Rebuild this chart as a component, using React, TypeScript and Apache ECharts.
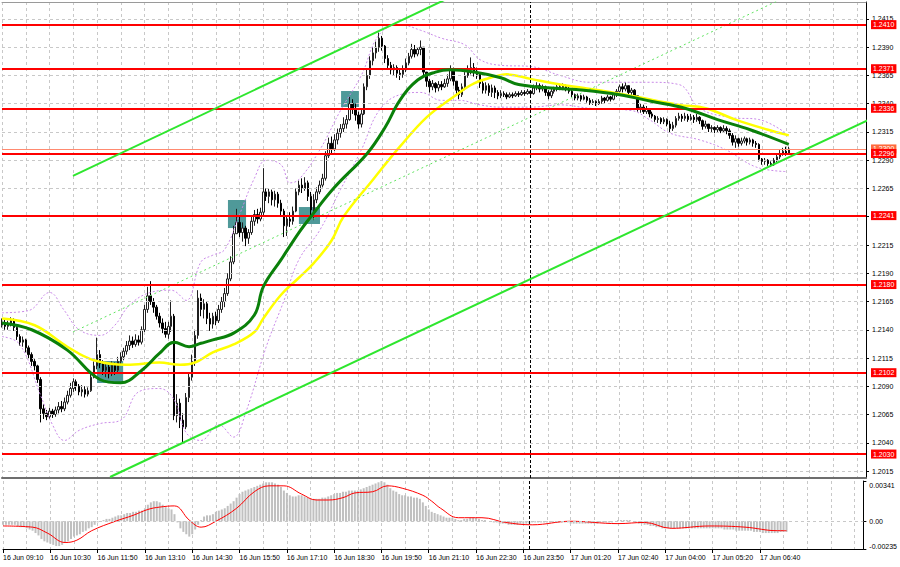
import React, { useEffect, useRef } from "react";
import * as echarts from "echarts";

// ---------- axis ticks ----------
const tickLabels = [
  "16 Jun 09:10", "16 Jun 10:30", "16 Jun 11:50", "16 Jun 13:10", "16 Jun 14:30",
  "16 Jun 15:50", "16 Jun 17:10", "16 Jun 18:30", "16 Jun 19:50", "16 Jun 21:10",
  "16 Jun 22:30", "16 Jun 23:50", "17 Jun 01:20", "17 Jun 02:40", "17 Jun 04:00",
  "17 Jun 05:20", "17 Jun 06:40",
];
const priceTicks = [
  1.2415, 1.239, 1.2365, 1.234, 1.2315, 1.229, 1.2265, 1.224, 1.2215,
  1.219, 1.2165, 1.214, 1.2115, 1.209, 1.2065, 1.204, 1.2015,
];
const macdTicks = [0.00341, 0, -0.00235];

// ---------- levels ----------
const levelLines = [1.241, 1.2371, 1.2336, 1.2296, 1.2241, 1.218, 1.2102, 1.203];
const bidPrice = 1.23;
const separatorIndex = 178;
const TOTAL_SLOTS = 292;

// ---------- candles (5 min) ----------
const firstOpen = 1.2144;
const closes = [
  1.2146, 1.2143, 1.2145, 1.2148, 1.2142, 1.2134, 1.2129, 1.2131, 1.2124, 1.2118,
  1.2112, 1.2108, 1.2096, 1.207, 1.2066, 1.2063, 1.2068, 1.2065, 1.2069, 1.2072,
  1.207, 1.2076, 1.2082, 1.2088, 1.2094, 1.209, 1.2085, 1.2087, 1.2083, 1.2086,
  1.2098, 1.2108, 1.2118, 1.211, 1.2104, 1.2107, 1.2101, 1.2109, 1.2104, 1.2112,
  1.2116, 1.2121, 1.2126, 1.213, 1.2127, 1.2131, 1.2129, 1.214, 1.2158, 1.217,
  1.2165, 1.216, 1.2152, 1.2146, 1.2141, 1.2136, 1.2143, 1.2152, 1.2064, 1.2075,
  1.206, 1.2054, 1.208, 1.2098, 1.2112, 1.2135, 1.2168, 1.2158, 1.2163, 1.215,
  1.2145, 1.2152, 1.2148, 1.2158, 1.2165, 1.2172, 1.2185, 1.22, 1.2225, 1.2235,
  1.2226, 1.223, 1.2221, 1.2226, 1.2236, 1.2242, 1.2238, 1.2244, 1.2262, 1.2258,
  1.2262, 1.2255, 1.226, 1.2252, 1.2245, 1.2232, 1.2238, 1.2236, 1.2245, 1.2262,
  1.2268, 1.2265, 1.227, 1.2258, 1.2246, 1.2255, 1.2262, 1.2268, 1.2274, 1.2294,
  1.2305, 1.23, 1.2308, 1.2314, 1.2318, 1.2322, 1.2326, 1.234, 1.2336, 1.233,
  1.2322, 1.2331, 1.2355, 1.2365, 1.2378, 1.2385, 1.239, 1.2398, 1.2391, 1.238,
  1.2374, 1.237, 1.2372, 1.2367, 1.2366, 1.2371, 1.2376, 1.2382, 1.2388, 1.2384,
  1.2388, 1.239, 1.2368, 1.236, 1.2355, 1.2358, 1.2354, 1.2357, 1.2355, 1.2358,
  1.2362, 1.2371, 1.236, 1.2352, 1.2348, 1.2355, 1.2365, 1.237, 1.2372, 1.2368,
  1.2366, 1.2358, 1.2352, 1.2356, 1.235, 1.2354, 1.235, 1.2347, 1.2349, 1.2348,
  1.2346, 1.2348, 1.2347, 1.2349, 1.2348, 1.235, 1.2349, 1.2351, 1.2349, 1.2354,
  1.2356, 1.2353, 1.2355, 1.235, 1.2347, 1.2351, 1.2353, 1.2355, 1.2354, 1.2356,
  1.2353, 1.2351, 1.2348, 1.2345, 1.2347, 1.2344, 1.2346, 1.2343, 1.2341, 1.2342,
  1.234, 1.2342, 1.2345, 1.2343, 1.2346, 1.2344, 1.2348, 1.2351, 1.2355, 1.2353,
  1.2356, 1.235, 1.2352, 1.2347, 1.2336, 1.2337, 1.2333, 1.2335, 1.2331, 1.2329,
  1.2326, 1.2327, 1.2324, 1.2326, 1.2322, 1.2318, 1.2321, 1.2327, 1.2329, 1.2327,
  1.2329, 1.2326, 1.2328, 1.2326, 1.2328, 1.2325, 1.232, 1.2322, 1.2318, 1.2319,
  1.2317, 1.2319, 1.2316, 1.2318, 1.2316, 1.2312, 1.2306, 1.2309, 1.2305, 1.2307,
  1.2309, 1.2306, 1.2308, 1.2305, 1.2304, 1.2291, 1.2289, 1.229, 1.2287, 1.2286,
  1.229, 1.2293, 1.2296, 1.2298, 1.2296, 1.23,
];
const highs = [
  1.215, 1.2149, 1.2148, 1.2151, 1.215, 1.2143, 1.2136, 1.2134, 1.2132, 1.2126,
  1.212, 1.2114, 1.2109, 1.2098, 1.2074, 1.2069, 1.2071, 1.207, 1.2072, 1.2076,
  1.2077, 1.208, 1.2086, 1.2093, 1.2097, 1.2096, 1.2092, 1.2091, 1.209, 1.2089,
  1.2101, 1.2112, 1.2133, 1.2122, 1.2113, 1.211, 1.2109, 1.2112, 1.2111, 1.2116,
  1.212, 1.2124, 1.213, 1.2135, 1.2134, 1.2136, 1.2135, 1.2143, 1.2162, 1.2178,
  1.2183, 1.2168, 1.2162, 1.2155, 1.215, 1.2147, 1.2147, 1.2166, 1.2154, 1.2083,
  1.2079, 1.2066, 1.2084, 1.2102, 1.2118, 1.214, 1.2175, 1.2172, 1.2167, 1.2165,
  1.2155, 1.2155, 1.2156, 1.2162, 1.2169, 1.2177, 1.219, 1.2205, 1.2232, 1.2247,
  1.224, 1.2235, 1.2232, 1.2229, 1.224, 1.2246, 1.2247, 1.2248, 1.2283, 1.2265,
  1.2265, 1.2264, 1.2263, 1.2262, 1.2255, 1.2247, 1.2241, 1.2244, 1.2249, 1.2265,
  1.2272, 1.2274, 1.2275, 1.2272, 1.2262, 1.226, 1.2266, 1.2272, 1.2278, 1.2298,
  1.231, 1.2311, 1.2313, 1.2318, 1.2322, 1.2328, 1.233, 1.2346, 1.2344, 1.234,
  1.2333, 1.2335, 1.2358, 1.237, 1.2382, 1.239, 1.2395, 1.2403, 1.24, 1.2392,
  1.2383, 1.2377, 1.2375, 1.2374, 1.237, 1.2374, 1.238, 1.2385, 1.2393, 1.2392,
  1.239, 1.2396, 1.239, 1.2368, 1.2362, 1.2361, 1.2359, 1.236, 1.236, 1.2362,
  1.2366, 1.2374, 1.2372, 1.236, 1.2355, 1.2358, 1.2368, 1.2374, 1.2381, 1.2376,
  1.2372, 1.2367, 1.236, 1.2359, 1.2358, 1.2357, 1.2356, 1.2352, 1.2352, 1.2351,
  1.235, 1.235, 1.235, 1.2351, 1.2351, 1.2352, 1.2352, 1.2353, 1.2352, 1.2357,
  1.2359, 1.2358, 1.2357, 1.2356, 1.2352, 1.2353, 1.2355, 1.2358, 1.2357, 1.2358,
  1.2357, 1.2355, 1.2353, 1.2349, 1.2349, 1.2348, 1.2348, 1.2347, 1.2345, 1.2344,
  1.2343, 1.2344, 1.2347, 1.2346, 1.2348, 1.2347, 1.235, 1.2353, 1.2357, 1.2358,
  1.2359, 1.2356, 1.2354, 1.2353, 1.2347, 1.234, 1.2339, 1.2338, 1.2336, 1.2333,
  1.233, 1.2329, 1.2328, 1.2328, 1.2327, 1.2325, 1.2324, 1.2329, 1.2332, 1.2331,
  1.2332, 1.2331, 1.2331, 1.233, 1.2331, 1.2329, 1.2326, 1.2325, 1.2322, 1.2321,
  1.232, 1.2321, 1.232, 1.2321, 1.232, 1.2318, 1.2314, 1.2312, 1.231, 1.231,
  1.2311, 1.231, 1.231, 1.2309, 1.2307, 1.2305, 1.2292, 1.2292, 1.2291, 1.2289,
  1.2292, 1.2295, 1.2299, 1.2301, 1.2302, 1.2302,
];
const lows = [
  1.2142, 1.214, 1.214, 1.2143, 1.2139, 1.2131, 1.2126, 1.2125, 1.212, 1.2115,
  1.2108, 1.2104, 1.2093, 1.2058, 1.2061, 1.206, 1.2061, 1.2062, 1.2063, 1.2066,
  1.2067, 1.2068, 1.2074, 1.208, 1.2085, 1.2086, 1.2082, 1.2081, 1.208, 1.2081,
  1.2085, 1.2097, 1.2105, 1.2106, 1.21, 1.2098, 1.2097, 1.2099, 1.21, 1.2102,
  1.2109, 1.2113, 1.2118, 1.2122, 1.2124, 1.2125, 1.2126, 1.2127, 1.2138, 1.2155,
  1.2162, 1.2155, 1.2149, 1.2142, 1.2137, 1.2133, 1.2132, 1.2138, 1.206, 1.2058,
  1.2053, 1.204, 1.2052, 1.2076, 1.2095, 1.2108, 1.2132, 1.2152, 1.215, 1.2145,
  1.2139, 1.2141, 1.2144, 1.2146, 1.2155, 1.216, 1.217, 1.2183, 1.2198, 1.2228,
  1.2222, 1.2218, 1.2214, 1.2216, 1.2224, 1.2232, 1.2234, 1.2236, 1.224, 1.2254,
  1.2252, 1.225, 1.2249, 1.2248, 1.224, 1.2222, 1.2223, 1.2231, 1.2233, 1.2244,
  1.2259, 1.2261, 1.2263, 1.2254, 1.224, 1.2237, 1.2252, 1.226, 1.2266, 1.2272,
  1.2292, 1.2296, 1.2298, 1.2304, 1.231, 1.2315, 1.2318, 1.2325, 1.2331, 1.2325,
  1.2318, 1.2319, 1.233, 1.2352, 1.2362, 1.2374, 1.238, 1.2386, 1.2387, 1.2376,
  1.237, 1.2366, 1.2365, 1.2363, 1.2361, 1.2363, 1.2368, 1.2374, 1.238, 1.2381,
  1.2382, 1.2383, 1.2364, 1.2355, 1.235, 1.2352, 1.235, 1.2351, 1.2352, 1.2354,
  1.2355, 1.236, 1.2356, 1.2347, 1.2344, 1.2346, 1.2352, 1.2363, 1.2366, 1.2364,
  1.2362, 1.2354, 1.2349, 1.2349, 1.2347, 1.2346, 1.2345, 1.2344, 1.2345, 1.2346,
  1.2344, 1.2345, 1.2345, 1.2346, 1.2346, 1.2347, 1.2347, 1.2348, 1.2347, 1.2348,
  1.2352, 1.235, 1.2351, 1.2347, 1.2344, 1.2345, 1.2349, 1.2351, 1.2352, 1.2352,
  1.2351, 1.2349, 1.2346, 1.2343, 1.2343, 1.2342, 1.2343, 1.2341, 1.2339, 1.2339,
  1.2338, 1.2339, 1.234, 1.234, 1.2342, 1.2342, 1.2343, 1.2346, 1.235, 1.235,
  1.2351, 1.2348, 1.2347, 1.2345, 1.2333, 1.2332, 1.2331, 1.2331, 1.2328, 1.2327,
  1.2324, 1.2323, 1.2322, 1.2322, 1.232, 1.2315, 1.2316, 1.2319, 1.2325, 1.2324,
  1.2325, 1.2324, 1.2325, 1.2323, 1.2324, 1.2322, 1.2317, 1.2318, 1.2315, 1.2315,
  1.2314, 1.2315, 1.2314, 1.2315, 1.2313, 1.2309, 1.2303, 1.2301, 1.2302, 1.2303,
  1.2305, 1.2303, 1.2304, 1.2302, 1.2301, 1.2289, 1.2286, 1.2286, 1.2285, 1.2284,
  1.2285, 1.2288, 1.2291, 1.2294, 1.2294, 1.2295,
];

// ---------- indicators: [bar index, value] ----------
const maSlow = [
  [0, 1.215], [11, 1.2144], [22, 1.2125], [31, 1.2113], [42, 1.2109], [53, 1.2111],
  [60, 1.2109], [65, 1.2111], [71, 1.212], [78, 1.2127], [85, 1.2138], [88, 1.215],
  [94, 1.2171], [100, 1.2186], [105, 1.2199], [111, 1.2219], [115, 1.224], [125, 1.2273],
  [134, 1.2302], [143, 1.2328], [152, 1.2346], [159, 1.2358], [166, 1.2364], [170, 1.2366],
  [178, 1.2362], [188, 1.2357], [196, 1.2354], [210, 1.2348], [228, 1.2339], [237, 1.2336],
  [247, 1.2326], [258, 1.2317], [265, 1.2312],
];
const maFast = [
  [0, 1.2146], [10, 1.214], [22, 1.2122], [33, 1.2096], [40, 1.2093], [47, 1.2104],
  [53, 1.2119], [58, 1.2129], [63, 1.2125], [67, 1.2128], [71, 1.2131], [78, 1.2137],
  [85, 1.2153], [88, 1.2178], [94, 1.2202], [100, 1.2226], [104, 1.224], [112, 1.2266],
  [123, 1.2296], [129, 1.2319], [134, 1.2343], [140, 1.2361], [146, 1.2368], [151, 1.237],
  [159, 1.2368], [168, 1.2363], [174, 1.2357], [185, 1.2354], [196, 1.2352], [208, 1.2348],
  [219, 1.2342], [230, 1.2336], [241, 1.2326], [252, 1.2317], [265, 1.2304],
];
const bandUpper = [
  [0, 1.2155], [9, 1.2157], [16, 1.2173], [21, 1.2157], [26, 1.214], [33, 1.2135],
  [38, 1.2144], [43, 1.2162], [50, 1.2173], [57, 1.2175], [62, 1.2166], [67, 1.22],
  [71, 1.2206], [75, 1.2211], [80, 1.2242], [85, 1.2274], [89, 1.229], [94, 1.2286],
  [97, 1.227], [100, 1.2273], [107, 1.2299], [114, 1.2334], [121, 1.2365], [127, 1.2401],
  [134, 1.241], [141, 1.2405], [148, 1.2398], [156, 1.2392], [161, 1.2379], [168, 1.2374],
  [178, 1.2373], [188, 1.2365], [198, 1.2359], [208, 1.2359], [218, 1.2359], [228, 1.2357],
  [235, 1.2336], [245, 1.2328], [255, 1.2326], [264, 1.2314],
];
const bandLower = [
  [0, 1.2134], [6, 1.2127], [13, 1.2082], [17, 1.2056], [21, 1.2042], [26, 1.2051],
  [33, 1.2057], [40, 1.206], [46, 1.2085], [53, 1.2088], [58, 1.2078], [62, 1.2049],
  [67, 1.2042], [73, 1.2056], [78, 1.2045], [82, 1.2066], [89, 1.2125], [95, 1.2166],
  [100, 1.2202], [107, 1.2228], [114, 1.2264], [121, 1.2299], [127, 1.2334], [134, 1.2348],
  [141, 1.235], [148, 1.2343], [154, 1.2343], [161, 1.2339], [168, 1.2337], [178, 1.2337],
  [188, 1.2339], [198, 1.2336], [212, 1.2334], [218, 1.2326], [225, 1.2314], [235, 1.2308],
  [244, 1.2299], [254, 1.2284], [264, 1.228],
];
const channelUpper = [[23.9, 1.22761], [154.3, 1.24384]];
const channelLower = [[36.4, 1.20097], [291.7, 1.23256]];
const channelMid = [[23.9, 1.2138], [265.4, 1.24362]];
const signalBoxes = [
  [[32.0, 1.21123], [40.8, 1.20929]],
  [[76.1, 1.22548], [82.2, 1.223]],
  [[100.0, 1.22486], [107.1, 1.22336]],
  [[114.2, 1.23513], [120.2, 1.23371]],
];

const macdHist = [
  -0.0003, -0.0003, -0.0003, -0.0003, -0.0003, -0.0004, -0.0005, -0.0005, -0.0006, -0.0007,
  -0.0008, -0.001, -0.0012, -0.0015, -0.0017, -0.0018, -0.0019, -0.002, -0.0021, -0.0021,
  -0.002, -0.0018, -0.0017, -0.0015, -0.0013, -0.0012, -0.0011, -0.0009, -0.0008, -0.0006,
  -0.0005, -0.0003, -0.0001, 0.0, 0.0001, 0.0002, 0.0002, 0.0003, 0.0004, 0.0005,
  0.0005, 0.0006, 0.0007, 0.0007, 0.0008, 0.0008, 0.0009, 0.0009, 0.0011, 0.0014,
  0.0016, 0.0017, 0.0017, 0.0016, 0.0014, 0.0012, 0.0011, 0.001, 0.0006, -0.0001,
  -0.0006, -0.0009, -0.0011, -0.0013, -0.0011, -0.0007, -0.0003, 0.0001, 0.0004, 0.0005,
  0.0005, 0.0006, 0.0008, 0.0009, 0.001, 0.0011, 0.0013, 0.0015, 0.0017, 0.002,
  0.0023, 0.0025, 0.0026, 0.0027, 0.0028, 0.0029, 0.003, 0.0031, 0.0032, 0.0033,
  0.0033, 0.0033, 0.0032, 0.0031, 0.0029, 0.0026, 0.0024, 0.0022, 0.0021, 0.0021,
  0.0022, 0.0022, 0.0021, 0.002, 0.0019, 0.0019, 0.0019, 0.0019, 0.002, 0.002,
  0.0021, 0.0022, 0.0023, 0.0024, 0.0024, 0.0025, 0.0025, 0.0026, 0.0026, 0.0026,
  0.0026, 0.0027, 0.0028, 0.0029, 0.003, 0.0031, 0.0032, 0.0033, 0.0034, 0.0033,
  0.0031, 0.0028, 0.0026, 0.0025, 0.0023, 0.0022, 0.0022, 0.0021, 0.0021, 0.002,
  0.002, 0.0019, 0.0016, 0.0013, 0.001, 0.0008, 0.0007, 0.0006, 0.0005, 0.0004,
  0.0003, 0.0003, 0.0003, 0.0002, 0.0001, 0.0001, 0.0002, 0.0002, 0.0003, 0.0003,
  0.0003, 0.0002, 0.0001, 0.0001, 0.0, 0.0, -0.0001, -0.0001, -0.0002, -0.0002,
  -0.0002, -0.0003, -0.0003, -0.0003, -0.0003, -0.0002, -0.0002, -0.0002, -0.0002, -0.0001,
  -0.0001, -0.0001, -0.0001, -0.0001, -0.0001, -0.0001, -0.0001, -0.0001, -0.0001, -0.0001,
  -0.0001, -0.0001, -0.0002, -0.0002, -0.0002, -0.0002, -0.0002, -0.0002, -0.0002, -0.0002,
  -0.0002, -0.0002, -0.0001, -0.0001, -0.0001, -0.0001, -0.0001, 0.0, 0.0001, 0.0001,
  0.0001, 0.0001, 0.0001, 0.0, -0.0001, -0.0002, -0.0002, -0.0003, -0.0003, -0.0004,
  -0.0004, -0.0005, -0.0005, -0.0006, -0.0006, -0.0006, -0.0006, -0.0006, -0.0006, -0.0006,
  -0.0006, -0.0006, -0.0006, -0.0006, -0.0006, -0.0006, -0.0006, -0.0006, -0.0006, -0.0006,
  -0.0006, -0.0006, -0.0006, -0.0006, -0.0007, -0.0007, -0.0007, -0.0007, -0.0008, -0.0008,
  -0.0008, -0.0008, -0.0008, -0.0008, -0.0009, -0.0009, -0.0009, -0.001, -0.001, -0.001,
  -0.001, -0.001, -0.001, -0.0009, -0.0009, -0.0009,
];
const macdSignal = [
  [0, -0.0004], [10, -0.0005], [15, -0.001], [21, -0.0018], [25, -0.0016], [30, -0.0008],
  [38, 0.0], [44, 0.0005], [49, 0.001], [53, 0.0012], [58, 0.0013], [63, 0.0001],
  [67, -0.0005], [72, 0.0], [79, 0.0011], [85, 0.0025], [90, 0.003], [95, 0.003],
  [101, 0.0023], [106, 0.0018], [110, 0.0018], [115, 0.002], [119, 0.0024], [125, 0.0025],
  [130, 0.003], [135, 0.0028], [142, 0.0022], [145, 0.0017], [148, 0.0011], [154, 0.0003],
  [162, 0.0003], [170, -0.0001], [179, -0.0003], [192, 0.0], [208, -0.0002], [217, -0.0001],
  [226, -0.0006], [239, -0.0004], [251, -0.0005], [262, -0.0008], [265, -0.0008],
];

const FONT = "Liberation Sans";

export default function App() {
  const ref = useRef<HTMLDivElement>(null);
  useEffect(() => {
    if (!ref.current) return;
    const chart = echarts.init(ref.current, null, { renderer: "svg" });
    const categories = Array.from({ length: TOTAL_SLOTS }, (_, i) => String(i));
    const candles = closes.map((c, i) => {
      const o = i === 0 ? firstOpen : closes[i - 1];
      return [o, c, Math.min(lows[i], o, c), Math.max(highs[i], o, c)];
    });
    const labelInterval = (i: number) => i % 16 === 0 && i / 16 < tickLabels.length;
    const gridInterval = (i: number) => i % 8 === 0;
    const gridLine = { color: "#c8c8c8", type: [3, 3], width: 1 };
    const sepLine = { color: "#000000", type: [3, 2], width: 1 };
    const priceLabel = (bg: string) => ({
      show: true, position: "end", distance: 5,
      formatter: (p: any) => Number(p.value).toFixed(4),
      backgroundColor: bg, color: "#ffffff", fontSize: 7, padding: [1, 2, 1, 2],
    });

    const option: any = {
      animation: false,
      backgroundColor: "#ffffff",
      textStyle: { fontFamily: FONT },
      grid: [
        { left: 2, right: 34, top: 2, height: 476 },
        { left: 2, right: 34, top: 481, height: 68 },
      ],
      xAxis: [
        {
          type: "category", gridIndex: 0, data: categories, boundaryGap: false,
          axisLine: { show: true, onZero: false, lineStyle: { color: "#6e6e6e", width: 2 } },
          axisTick: { show: false }, axisLabel: { show: false },
          splitLine: { show: true, interval: gridInterval, lineStyle: gridLine },
        },
        {
          type: "value", gridIndex: 0, min: 0, max: TOTAL_SLOTS - 1, position: "top",
          axisLine: { show: true, onZero: false, lineStyle: { color: "#9a9a9a", width: 1 } },
          axisTick: { show: false }, axisLabel: { show: false }, splitLine: { show: false },
        },
        {
          type: "category", gridIndex: 1, data: categories, boundaryGap: false,
          axisLine: { show: true, onZero: false, lineStyle: { color: "#000000", width: 1 } },
          axisTick: { show: true, interval: labelInterval, length: 4, lineStyle: { color: "#000000" } },
          axisLabel: {
            show: true, interval: labelInterval, align: "left", fontSize: 7, color: "#000000", margin: 5,
            formatter: (_v: string, i: number) => tickLabels[i / 16] ?? "",
          },
          splitLine: { show: true, interval: gridInterval, lineStyle: gridLine },
        },
        {
          type: "value", gridIndex: 1, min: 0, max: TOTAL_SLOTS - 1, show: false,
          axisLine: { onZero: false },
        },
      ],
      yAxis: [
        {
          type: "value", gridIndex: 0, position: "right", min: 1.200881, max: 1.243004,
          axisLine: { show: true, onZero: false, lineStyle: { color: "#000000", width: 1 } },
          axisTick: { show: true, customValues: priceTicks, length: 3, lineStyle: { color: "#000000" } },
          axisLabel: {
            customValues: priceTicks, fontSize: 7, color: "#000000", margin: 6,
            formatter: (v: number) => v.toFixed(4),
          },
          splitLine: { show: false },
        },
        {
          type: "value", gridIndex: 1, position: "right", min: -0.00235, max: 0.00341,
          axisLine: { show: true, onZero: false, lineStyle: { color: "#000000", width: 1 } },
          axisTick: { show: true, customValues: macdTicks, length: 3, lineStyle: { color: "#000000" } },
          axisLabel: {
            customValues: macdTicks, fontSize: 7, color: "#000000", margin: 6,
            formatter: (v: number) =>
              v > 0 ? "{t|" + v.toFixed(5) + "}" : v < 0 ? "{b|" + v.toFixed(5) + "}" : v.toFixed(2),
            rich: {
              t: { fontSize: 7, color: "#000000", padding: [8, 0, 0, 0] },
              b: { fontSize: 7, color: "#000000", padding: [0, 0, 6, 0] },
            },
          },
          splitLine: { show: false },
        },
      ],
      series: [
        {
          name: "frame",
          type: "line", xAxisIndex: 1, yAxisIndex: 0, z: 1, silent: true,
          data: [[0, priceTicks[0]]], showSymbol: false, lineStyle: { opacity: 0 },
          markLine: {
            silent: true, symbol: ["none", "none"], label: { show: false }, precision: 6,
            lineStyle: gridLine,
            data: priceTicks.map((v) => ({ yAxis: v })),
          },
          markArea: {
            silent: true,
            itemStyle: { color: "#4f9999" },
            data: signalBoxes.map(([a, b]) => [
              { coord: [a[0], a[1]] },
              { coord: [b[0], b[1]] },
            ]),
          },
        },
        {
          name: "price",
          type: "candlestick", xAxisIndex: 0, yAxisIndex: 0, z: 3,
          data: candles, barWidth: 2,
          itemStyle: {
            color: "#ffffff", color0: "#000000",
            borderColor: "#202020", borderColor0: "#000000", borderWidth: 1,
          },
          markLine: {
            silent: true, symbol: ["none", "none"], precision: 6,
            data: [
              { xAxis: separatorIndex, lineStyle: sepLine, label: { show: false } },
              {
                yAxis: bidPrice,
                lineStyle: { color: "#ff8a70", width: 1, type: "solid" },
                label: priceLabel("#ff6a3d"),
              },
              ...levelLines.map((v) => ({
                yAxis: v,
                lineStyle: { color: "#ff0000", width: 2, type: "solid" },
                label: priceLabel("#ff0000"),
              })),
            ],
          },
        },
        {
          name: "bandUpper", type: "line", xAxisIndex: 1, yAxisIndex: 0, z: 4, data: bandUpper,
          smooth: 0.4, showSymbol: false, silent: true,
          lineStyle: { color: "#c98ae8", width: 1, type: [2, 2] },
        },
        {
          name: "bandLower", type: "line", xAxisIndex: 1, yAxisIndex: 0, z: 4, data: bandLower,
          smooth: 0.4, showSymbol: false, silent: true,
          lineStyle: { color: "#c98ae8", width: 1, type: [2, 2] },
        },
        {
          name: "maSlow", type: "line", xAxisIndex: 1, yAxisIndex: 0, z: 4, data: maSlow,
          smooth: 0.4, showSymbol: false, silent: true,
          lineStyle: { color: "#ffff00", width: 2.5 },
        },
        {
          name: "maFast", type: "line", xAxisIndex: 1, yAxisIndex: 0, z: 5, data: maFast,
          smooth: 0.4, showSymbol: false, silent: true,
          lineStyle: { color: "#0a800a", width: 3 },
        },
        {
          name: "channelMid", type: "line", xAxisIndex: 1, yAxisIndex: 0, z: 4, data: channelMid,
          showSymbol: false, silent: true,
          lineStyle: { color: "#5fe35f", width: 1, type: [2, 3] },
        },
        {
          name: "channelUpper", type: "line", xAxisIndex: 1, yAxisIndex: 0, z: 5, data: channelUpper,
          showSymbol: false, silent: true,
          lineStyle: { color: "#2ee62e", width: 2 },
        },
        {
          name: "channelLower", type: "line", xAxisIndex: 1, yAxisIndex: 0, z: 5, data: channelLower,
          showSymbol: false, silent: true,
          lineStyle: { color: "#2ee62e", width: 2 },
        },
        {
          name: "macd", type: "bar", xAxisIndex: 2, yAxisIndex: 1, data: macdHist, barWidth: 2,
          itemStyle: { color: "#c0c0c0" }, silent: true,
          markLine: {
            silent: true, symbol: ["none", "none"], label: { show: false }, precision: 6,
            data: [
              { yAxis: 0, lineStyle: gridLine },
              { xAxis: separatorIndex, lineStyle: sepLine },
            ],
          },
        },
        {
          name: "signal", type: "line", xAxisIndex: 3, yAxisIndex: 1, data: macdSignal,
          smooth: 0.4, showSymbol: false, silent: true,
          lineStyle: { color: "#ff0000", width: 1 },
        },
      ],
    };
    chart.setOption(option);
    return () => chart.dispose();
  }, []);
  return (
    <div
      ref={ref}
      style={{ position: "fixed", left: 0, top: 0, width: 900, height: 567, background: "#ffffff" }}
    />
  );
}
